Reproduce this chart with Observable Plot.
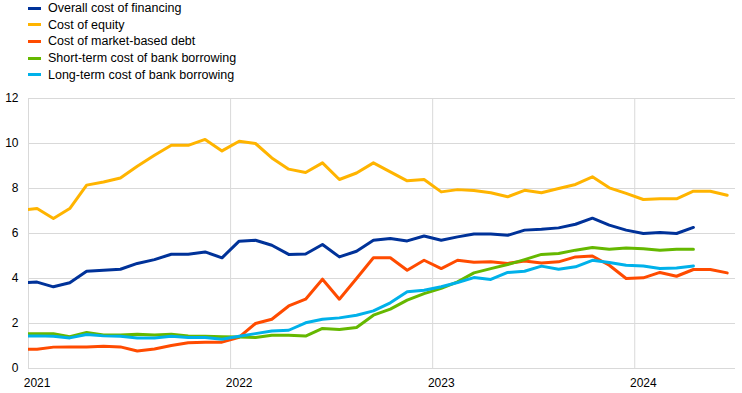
<!DOCTYPE html>
<html>
<head>
<meta charset="utf-8">
<script src="https://cdn.jsdelivr.net/npm/d3@7"></script>
<script src="https://cdn.jsdelivr.net/npm/@observablehq/plot@0.6"></script>
<style>
  html, body { margin: 0; padding: 0; background: #fff; }
  body { width: 742px; height: 393px; overflow: hidden; font-family: "Liberation Sans", Arial, sans-serif; }
  #legend { position: relative; height: 88px; }
  .item { position: absolute; left: 28px; height: 16px; display: flex; align-items: center; font-size: 12.5px; color: #000; white-space: nowrap; }
  .sw { width: 13px; height: 3px; margin-right: 7px; }
  #chart svg { display: block; }
</style>
</head>
<body>
<div id="legend"></div>
<div id="chart"></div>
<script>
// Series names and colours
const seriesNames = [
  "Overall cost of financing",
  "Cost of equity",
  "Cost of market-based debt",
  "Short-term cost of bank borrowing",
  "Long-term cost of bank borrowing"
];
const seriesColors = ["#003299", "#ffb400", "#ff4b00", "#65b800", "#00b1ea"];

// Monthly observations, Dec 2020 .. Jun 2024 (percentages)
const overall = [3.80, 3.84, 3.63, 3.81, 4.32, 4.37, 4.41, 4.67, 4.84, 5.08, 5.08, 5.18, 4.92,
  5.66, 5.70, 5.48, 5.07, 5.09, 5.51, 4.96, 5.21, 5.70, 5.78, 5.67, 5.89,
  5.70, 5.85, 5.98, 5.98, 5.92, 6.15, 6.19, 6.25, 6.41, 6.68, 6.37, 6.15,
  6.00, 6.04, 6.00, 6.27, null, null];
const equity = [7.03, 7.11, 6.67, 7.11, 8.15, 8.29, 8.47, 8.99, 9.48, 9.92, 9.92, 10.18, 9.67,
  10.10, 10.00, 9.36, 8.86, 8.71, 9.14, 8.40, 8.69, 9.14, 8.74, 8.34, 8.40,
  7.85, 7.95, 7.91, 7.81, 7.63, 7.92, 7.81, 8.00, 8.18, 8.52, 8.03, 7.78,
  7.51, 7.54, 7.54, 7.88, 7.88, 7.70];
const marketDebt = [0.86, 0.86, 0.95, 0.96, 0.96, 0.99, 0.96, 0.78, 0.87, 1.02, 1.14, 1.17, 1.17,
  1.39, 2.00, 2.19, 2.78, 3.08, 3.97, 3.08, 4.00, 4.92, 4.92, 4.37, 4.81,
  4.44, 4.81, 4.72, 4.74, 4.67, 4.78, 4.69, 4.74, 4.96, 5.00, 4.59, 4.00,
  4.03, 4.27, 4.10, 4.40, 4.40, 4.25];
const shortTermBank = [1.55, 1.55, 1.54, 1.41, 1.60, 1.49, 1.49, 1.52, 1.49, 1.52, 1.45, 1.43, 1.41,
  1.40, 1.38, 1.48, 1.48, 1.44, 1.78, 1.73, 1.82, 2.37, 2.64, 3.04, 3.33,
  3.56, 3.85, 4.25, 4.44, 4.62, 4.84, 5.07, 5.11, 5.26, 5.38, 5.30, 5.36,
  5.32, 5.26, 5.30, 5.30, null, null];
const longTermBank = [1.45, 1.45, 1.43, 1.36, 1.51, 1.45, 1.43, 1.36, 1.36, 1.43, 1.38, 1.38, 1.30,
  1.43, 1.55, 1.67, 1.70, 2.03, 2.19, 2.25, 2.37, 2.56, 2.92, 3.41, 3.48,
  3.63, 3.82, 4.04, 3.96, 4.27, 4.32, 4.55, 4.41, 4.52, 4.81, 4.71, 4.59,
  4.56, 4.44, 4.47, 4.56, null, null];

const xTickLabels = ["2021", "2022", "2023", "2024"];
const yTicks = [0, 2, 4, 6, 8, 10, 12];

// Build table
const allSeries = [overall, equity, marketDebt, shortTermBank, longTermBank];
const months = d3.utcMonth.range(new Date(Date.UTC(2020, 11, 1)), new Date(Date.UTC(2024, 6, 1)));
const mid = d => new Date((+d + +d3.utcMonth.offset(d, 1)) / 2);
const rows = [];
allSeries.forEach((vals, s) => {
  vals.forEach((v, i) => {
    if (v != null) rows.push({series: seriesNames[s], date: mid(months[i]), value: v});
  });
});
const yearStarts = xTickLabels.map(y => new Date(Date.UTC(+y, 0, 1)));
const yearMids = yearStarts.map(mid);

// Legend
const legend = document.getElementById("legend");
seriesNames.forEach((name, i) => {
  const it = document.createElement("div");
  it.className = "item";
  it.style.top = (0 + i * 16.67) + "px";
  const sw = document.createElement("span");
  sw.className = "sw";
  sw.style.background = seriesColors[i];
  const tx = document.createElement("span");
  tx.textContent = name;
  it.appendChild(sw);
  it.appendChild(tx);
  legend.appendChild(it);
});

const chart = Plot.plot({
  width: 742,
  height: 305,
  marginLeft: 28,
  marginRight: 7,
  marginTop: 10,
  marginBottom: 25,
  style: {fontFamily: "'Liberation Sans', Arial, sans-serif", fontSize: "12px", color: "#000", background: "#fff"},
  x: {type: "utc", domain: [new Date(Date.UTC(2021, 0, 1)), new Date(Date.UTC(2024, 6, 1))]},
  y: {domain: [0, 12]},
  color: {domain: seriesNames, range: seriesColors},
  marks: [
    Plot.ruleY(yTicks, {stroke: "#d9d9d9", strokeWidth: 1}),
    Plot.ruleX(yearStarts, {y1: 0, y2: 12, stroke: "#d9d9d9", strokeWidth: 1}),
    Plot.axisY(yTicks, {tickSize: 0, tickPadding: 10, label: null, fontSize: 12}),
    Plot.axisX(yearMids, {tickSize: 0, tickPadding: 10, label: null, fontSize: 12, tickFormat: d3.utcFormat("%Y")}),
    Plot.line(rows, {x: "date", y: "value", z: "series", stroke: "series", strokeWidth: 3, clip: true, curve: "linear"})
  ]
});
document.getElementById("chart").appendChild(chart);
</script>
</body>
</html>
